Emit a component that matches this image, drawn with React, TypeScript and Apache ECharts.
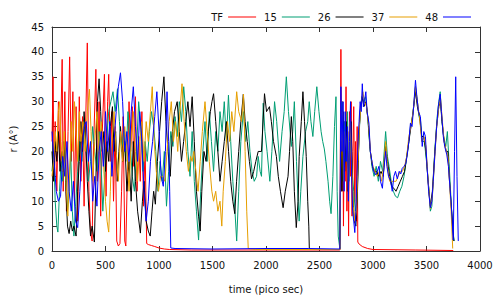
import React, { useEffect, useRef } from "react";
import * as echarts from "echarts";

const seriesNames = ["TF", "15", "26", "37", "48"];
const seriesColors = ["#ff0000", "#009e73", "#000000", "#e69f00", "#0000ff"];

const xTicks = [0, 500, 1000, 1500, 2000, 2500, 3000, 3500, 4000];
const yTicks = [0, 5, 10, 15, 20, 25, 30, 35, 40, 45];

const tf = [
  [0, 22], [10, 35], [20, 15], [30, 26], [45, 12], [60, 30], [75, 18], [95, 38.5], [105, 12], [120, 32],
  [135, 8], [150, 24], [165, 39], [180, 18], [195, 32], [210, 10], [225, 29], [240, 6], [255, 31], [270, 14],
  [285, 27], [300, 9], [315, 26], [330, 41.8], [345, 12], [360, 4], [375, 2], [390, 22], [410, 36.5], [425, 14],
  [440, 30], [455, 7], [470, 24], [490, 35.5], [505, 11], [520, 30], [530, 35.5], [545, 18], [560, 28], [575, 10],
  [590, 25], [605, 2], [620, 1], [635, 1.5], [650, 12], [665, 27], [680, 2], [690, 1], [705, 16], [720, 30],
  [735, 20], [750, 29], [765, 17], [780, 31], [795, 12], [810, 23], [825, 14], [840, 28], [855, 9], [870, 21],
  [885, 1.5], [900, 1.3], [930, 1.1], [960, 0.9], [1000, 0.6], [1050, 0.4], [1100, 0.3], [1300, 0.2], [2000, 0.2], [2690, 0.2],
  [2695, 22], [2700, 40.5], [2708, 12], [2716, 30], [2724, 5], [2732, 26], [2740, 14], [2748, 33], [2756, 8], [2764, 24],
  [2772, 3], [2780, 28], [2788, 15], [2796, 30], [2804, 7], [2812, 20], [2820, 29], [2828, 10], [2836, 22], [2844, 6],
  [2852, 25], [2858, 1.8], [2870, 1.4], [2900, 0.9], [2950, 0.5], [3000, 0.3], [3400, 0.2], [3750, 0.1],
];

const s15 = [
  [0, 16], [15, 20], [30, 10], [45, 5], [55, 3.8], [70, 12], [85, 18], [100, 14], [115, 22], [130, 17],
  [145, 8], [160, 12], [175, 20], [190, 8], [205, 3], [220, 9], [240, 16], [260, 22], [280, 18], [300, 25],
  [320, 20], [340, 14], [360, 18], [380, 25], [400, 20], [420, 16], [440, 24], [460, 17], [475, 8], [490, 14],
  [510, 22], [530, 28], [550, 30], [570, 32], [590, 28], [612, 32.6], [630, 26], [650, 20], [670, 24], [690, 18],
  [710, 28], [730, 22], [750, 15], [770, 12], [790, 20], [810, 30], [830, 25], [850, 16], [870, 22], [890, 18],
  [910, 24], [930, 28], [950, 25], [970, 20], [990, 12], [1010, 18], [1030, 14], [1050, 20], [1070, 9], [1090, 16],
  [1110, 24], [1130, 21], [1150, 27], [1170, 23], [1190, 30], [1210, 26], [1231, 33], [1250, 28], [1270, 20], [1290, 15],
  [1310, 24], [1330, 14], [1350, 8], [1370, 2.2], [1390, 12], [1410, 20], [1430, 26], [1450, 18], [1470, 28], [1490, 22],
  [1510, 16], [1530, 24], [1550, 20], [1570, 28], [1590, 24], [1610, 30], [1630, 22], [1649, 31.3], [1670, 22], [1690, 14],
  [1710, 8], [1726, 2], [1745, 12], [1765, 22], [1788, 28], [1810, 22], [1830, 26], [1850, 20], [1870, 16], [1890, 14],
  [1912, 15], [1927, 19], [1945, 16], [1958, 15], [1974, 29.7], [1990, 24], [2010, 20], [2036, 14], [2055, 20], [2080, 30],
  [2100, 26], [2127, 18], [2150, 24], [2170, 28], [2190, 35], [2210, 28], [2237, 21], [2250, 24], [2265, 30], [2285, 18],
  [2300, 10], [2310, 6], [2325, 12], [2345, 19], [2370, 24], [2390, 26], [2404, 30], [2420, 26], [2438, 23], [2455, 28],
  [2475, 33], [2495, 28], [2515, 24], [2530, 22], [2545, 20.5], [2560, 18], [2580, 14], [2595, 10], [2608, 7.5], [2625, 15],
  [2640, 25], [2654, 31], [2665, 12], [2675, 3], [2690, 0.5],
  [2700, 25], [2710, 30], [2720, 14], [2730, 26], [2745, 18], [2760, 28], [2775, 14], [2790, 24], [2805, 16], [2820, 12],
  [2835, 8], [2850, 10], [2865, 20], [2880, 28], [2895, 31], [2910, 30], [2930, 31], [2950, 27], [2970, 21], [2990, 17],
  [3010, 15], [3030, 17], [3050, 14], [3070, 18], [3090, 16], [3105, 20], [3118, 24], [3135, 19], [3150, 17], [3170, 14],
  [3190, 12], [3210, 11], [3230, 10.7], [3250, 12], [3270, 13], [3290, 15], [3310, 18], [3330, 21], [3350, 25], [3370, 27],
  [3397, 33], [3415, 30], [3430, 27], [3445, 26], [3460, 22], [3480, 22], [3500, 18], [3520, 13], [3536, 8], [3550, 9],
  [3565, 15], [3580, 21], [3600, 27], [3615, 30], [3628, 32], [3645, 26], [3660, 23], [3680, 21], [3695, 24], [3710, 18],
  [3730, 10], [3745, 4], [3760, 2],
];

const s26 = [
  [0, 20], [15, 14], [30, 22], [45, 18], [60, 24], [75, 16], [90, 20], [102, 16], [115, 22], [130, 12],
  [145, 5], [160, 3.5], [175, 6], [190, 4], [205, 5], [225, 3], [240, 12], [255, 18], [270, 26], [285, 20],
  [300, 28], [315, 22], [330, 14], [345, 8], [360, 3], [375, 5], [396, 1.8], [410, 14], [425, 30], [440, 34.6],
  [455, 28], [470, 20], [485, 24], [500, 16], [515, 22], [530, 18], [545, 25], [565, 29], [580, 20], [595, 24],
  [610, 14], [625, 20], [640, 25], [660, 18], [680, 22], [700, 12], [720, 18], [740, 10], [760, 22], [780, 14],
  [800, 8], [826, 3.6], [845, 10], [860, 14], [880, 6], [900, 4], [918, 3], [935, 8], [950, 12], [966, 9.4],
  [985, 18], [1005, 24], [1025, 30], [1046, 35], [1065, 26], [1085, 20], [1105, 15], [1125, 24], [1145, 28], [1170, 30],
  [1190, 24], [1210, 18], [1230, 22], [1250, 26], [1270, 30], [1290, 25], [1310, 31], [1330, 22], [1350, 12], [1370, 7],
  [1385, 4], [1400, 12], [1420, 20], [1440, 18], [1460, 24], [1480, 28], [1495, 30], [1510, 31.6], [1530, 26], [1550, 20],
  [1570, 14], [1590, 18], [1610, 22], [1630, 26], [1650, 20], [1670, 14], [1690, 10], [1708, 7.5], [1725, 14], [1745, 20],
  [1765, 26], [1788, 31.5], [1805, 26], [1825, 22], [1845, 18], [1865, 14.5], [1885, 16], [1905, 18], [1927, 20], [1958, 20],
  [1986, 31.6], [2005, 28], [2032, 29], [2050, 26], [2070, 22], [2097, 19], [2115, 15], [2135, 12], [2160, 8.7], [2180, 12],
  [2206, 15], [2220, 20], [2237, 27], [2250, 22], [2265, 12], [2283, 4.7], [2300, 10], [2310, 19], [2330, 26], [2345, 32],
  [2360, 26], [2376, 19], [2390, 10], [2400, 5], [2405, 0.3], [2500, 0.3], [2690, 0.3],
  [2700, 22], [2710, 12], [2720, 28], [2735, 16], [2750, 26], [2765, 12], [2780, 20], [2795, 26], [2810, 12], [2825, 6],
  [2840, 5], [2855, 12], [2870, 24], [2885, 29], [2900, 31], [2915, 29], [2935, 30], [2955, 26], [2975, 20], [2995, 17],
  [3015, 16], [3035, 16], [3055, 15], [3075, 16], [3095, 15], [3118, 21], [3135, 18], [3155, 15], [3175, 13], [3195, 12.6],
  [3215, 12], [3235, 13], [3255, 14], [3275, 15], [3295, 16], [3315, 19], [3335, 22], [3355, 25], [3375, 28], [3397, 32],
  [3415, 29], [3435, 27], [3455, 23], [3475, 23], [3495, 20], [3515, 14], [3536, 9], [3555, 12], [3575, 19], [3595, 25],
  [3615, 29], [3630, 30], [3645, 26], [3665, 22], [3685, 20], [3700, 20], [3715, 14], [3735, 8], [3755, 2],
];

const s37 = [
  [0, 15], [15, 18], [30, 24], [45, 20], [60, 28], [71, 30], [85, 22], [100, 16], [115, 24], [130, 14],
  [148, 7], [165, 16], [180, 26], [195, 20], [210, 30], [225, 24], [240, 18], [255, 28], [270, 22], [290, 26],
  [310, 20], [330, 28], [350, 32.5], [365, 24], [380, 14], [400, 22], [420, 28], [440, 20], [460, 26], [480, 18],
  [500, 10], [515, 6], [530, 3.8], [545, 12], [560, 22], [580, 28], [600, 20], [620, 14], [640, 24], [660, 18],
  [680, 25], [700, 20], [720, 12], [740, 22], [760, 28], [780, 20], [800, 14], [820, 22], [840, 26], [860, 18],
  [880, 26], [900, 22], [920, 28], [937, 33], [955, 22], [975, 16], [995, 12], [1015, 15], [1035, 15], [1055, 14],
  [1075, 20], [1095, 26], [1115, 30], [1135, 22], [1155, 26], [1175, 20], [1195, 28], [1215, 33.6], [1235, 26], [1255, 20],
  [1275, 16], [1295, 19], [1309, 18], [1325, 20], [1345, 16], [1365, 12], [1385, 18], [1405, 24], [1430, 30], [1450, 24],
  [1470, 18], [1494, 12], [1510, 10], [1530, 12], [1550, 8], [1570, 10], [1587, 5], [1600, 12], [1620, 18], [1640, 26],
  [1660, 22], [1680, 28], [1700, 24], [1726, 32], [1745, 28], [1772, 26], [1790, 31.5], [1805, 20], [1820, 8], [1834, 0.5],
  [1900, 0.3], [2690, 0.3],
  [2700, 20], [2712, 28], [2725, 14], [2740, 24], [2755, 20], [2770, 12], [2785, 26], [2800, 18], [2815, 9], [2830, 6],
  [2845, 8], [2860, 18], [2875, 26], [2890, 30], [2905, 32], [2920, 30], [2940, 29], [2960, 25], [2980, 19], [3000, 17],
  [3020, 16], [3040, 15], [3060, 16], [3080, 14], [3100, 17], [3118, 22], [3135, 17], [3155, 14], [3175, 14], [3195, 14],
  [3215, 14], [3235, 15], [3255, 16], [3275, 16], [3295, 17], [3315, 19], [3335, 23], [3355, 25], [3375, 28], [3397, 33],
  [3415, 30], [3435, 27], [3455, 22], [3475, 23], [3495, 21], [3515, 14], [3536, 8.5], [3555, 11], [3575, 18], [3595, 25],
  [3615, 29], [3630, 31], [3645, 27], [3665, 22], [3685, 20], [3700, 19], [3715, 14], [3730, 8], [3745, 0.5],
];

const s48 = [
  [0, 24], [20, 18], [40, 12], [60, 10], [80, 11], [100, 19], [120, 15], [140, 22], [160, 12], [180, 8],
  [200, 14], [220, 6], [240, 4.7], [260, 12], [280, 20], [300, 25], [320, 26], [340, 18], [360, 22], [380, 10],
  [400, 15], [420, 9], [440, 20], [460, 24], [480, 17], [500, 28], [520, 20], [540, 26], [560, 15], [580, 22],
  [600, 28], [620, 33], [640, 35.8], [660, 30], [680, 20], [700, 24], [720, 18], [740, 28], [760, 33], [780, 25],
  [800, 18], [820, 28], [840, 22], [860, 12], [880, 6], [900, 10], [920, 18], [940, 22], [960, 27], [980, 32],
  [1000, 24], [1020, 15], [1040, 13], [1060, 20], [1075, 32], [1090, 22], [1100, 12], [1110, 0.6], [1150, 0.5], [1500, 0.4],
  [2000, 0.5], [2400, 0.5], [2690, 0.4],
  [2700, 33], [2710, 20], [2720, 30], [2730, 12], [2740, 28], [2750, 18], [2760, 25], [2770, 10], [2780, 22], [2790, 30],
  [2800, 15], [2810, 8], [2820, 6], [2830, 3.7], [2840, 8], [2850, 15], [2860, 22], [2870, 26], [2880, 30], [2890, 28],
  [2900, 33.6], [2910, 29], [2920, 30], [2933, 32], [2945, 28], [2962, 25.7], [2975, 20], [2990, 18], [3005, 16], [3026, 15.3],
  [3040, 16], [3055, 17], [3070, 14], [3088, 12.6], [3100, 16], [3118, 20], [3130, 17], [3145, 15], [3165, 14], [3180, 12],
  [3195, 15], [3210, 16], [3227, 14.5], [3245, 16], [3260, 15.5], [3273, 16.6], [3290, 17], [3305, 17.5], [3320, 19.3], [3335, 22],
  [3350, 25.7], [3365, 25], [3380, 29], [3397, 34.3], [3410, 31], [3425, 28], [3443, 27], [3460, 21], [3475, 24], [3490, 23],
  [3505, 17], [3520, 12], [3536, 8.7], [3550, 10], [3563, 14], [3580, 20], [3595, 25], [3610, 29], [3628, 31.5], [3640, 28],
  [3657, 23], [3670, 21], [3690, 19.3], [3705, 17], [3720, 12.6], [3735, 8], [3750, 2.2], [3762, 20], [3773, 35], [3785, 15],
  [3797, 2],
];

const allData = [tf, s15, s26, s37, s48];

export default function App() {
  const ref = useRef<HTMLDivElement>(null);
  useEffect(() => {
    if (!ref.current) return;
    const chart = echarts.init(ref.current, null, { renderer: "svg" });
    const font = "DejaVu Sans";
    const axisColor = "#333";
    const common = {
      type: "value" as const,
      axisLine: { show: true, onZero: false, lineStyle: { color: axisColor, width: 1 } },
      axisTick: { show: true, inside: true, length: 5, lineStyle: { color: axisColor } },
      splitLine: { show: false },
    };
    chart.setOption({
      animation: false,
      grid: { left: 49, right: 18, top: 27, bottom: 43 },
      legend: {
        data: seriesNames,
        right: 22,
        top: 7,
        align: "right",
        icon: "rect",
        itemWidth: 28,
        itemHeight: 1,
        itemGap: 8,
        textStyle: { fontFamily: font, fontSize: 10, color: "#111" },
      },
      xAxis: [
        {
          ...common,
          min: xTicks[0],
          max: xTicks[xTicks.length - 1],
          interval: xTicks[1] - xTicks[0],
          name: "time (pico sec)",
          nameLocation: "middle",
          nameGap: 33,
          nameTextStyle: { fontFamily: font, fontSize: 10, color: "#111" },
          axisLabel: { fontFamily: font, fontSize: 10, color: "#111", margin: 9, formatter: (v: number) => String(v) },
        },
        {
          ...common,
          position: "top",
          min: xTicks[0],
          max: xTicks[xTicks.length - 1],
          interval: xTicks[1] - xTicks[0],
          axisLabel: { show: false },
        },
      ],
      yAxis: [
        {
          ...common,
          min: yTicks[0],
          max: yTicks[yTicks.length - 1],
          interval: yTicks[1] - yTicks[0],
          name: "r (A°)",
          nameLocation: "middle",
          nameGap: 34,
          nameRotate: 90,
          nameTextStyle: { fontFamily: font, fontSize: 10, color: "#111" },
          axisLabel: { fontFamily: font, fontSize: 10, color: "#111", margin: 8, formatter: (v: number) => String(v) },
        },
        {
          ...common,
          position: "right",
          min: yTicks[0],
          max: yTicks[yTicks.length - 1],
          interval: yTicks[1] - yTicks[0],
          axisLabel: { show: false },
        },
      ],
      series: allData.map((d, i) => ({
        name: seriesNames[i],
        type: "line",
        data: d,
        xAxisIndex: 0,
        yAxisIndex: 0,
        symbol: "none",
        color: seriesColors[i],
        lineStyle: { width: 1, color: seriesColors[i] },
      })),
    });
    return () => chart.dispose();
  }, []);
  return <div ref={ref} style={{ width: 498, height: 299, position: "absolute", left: 0, top: 0 }} />;
}
